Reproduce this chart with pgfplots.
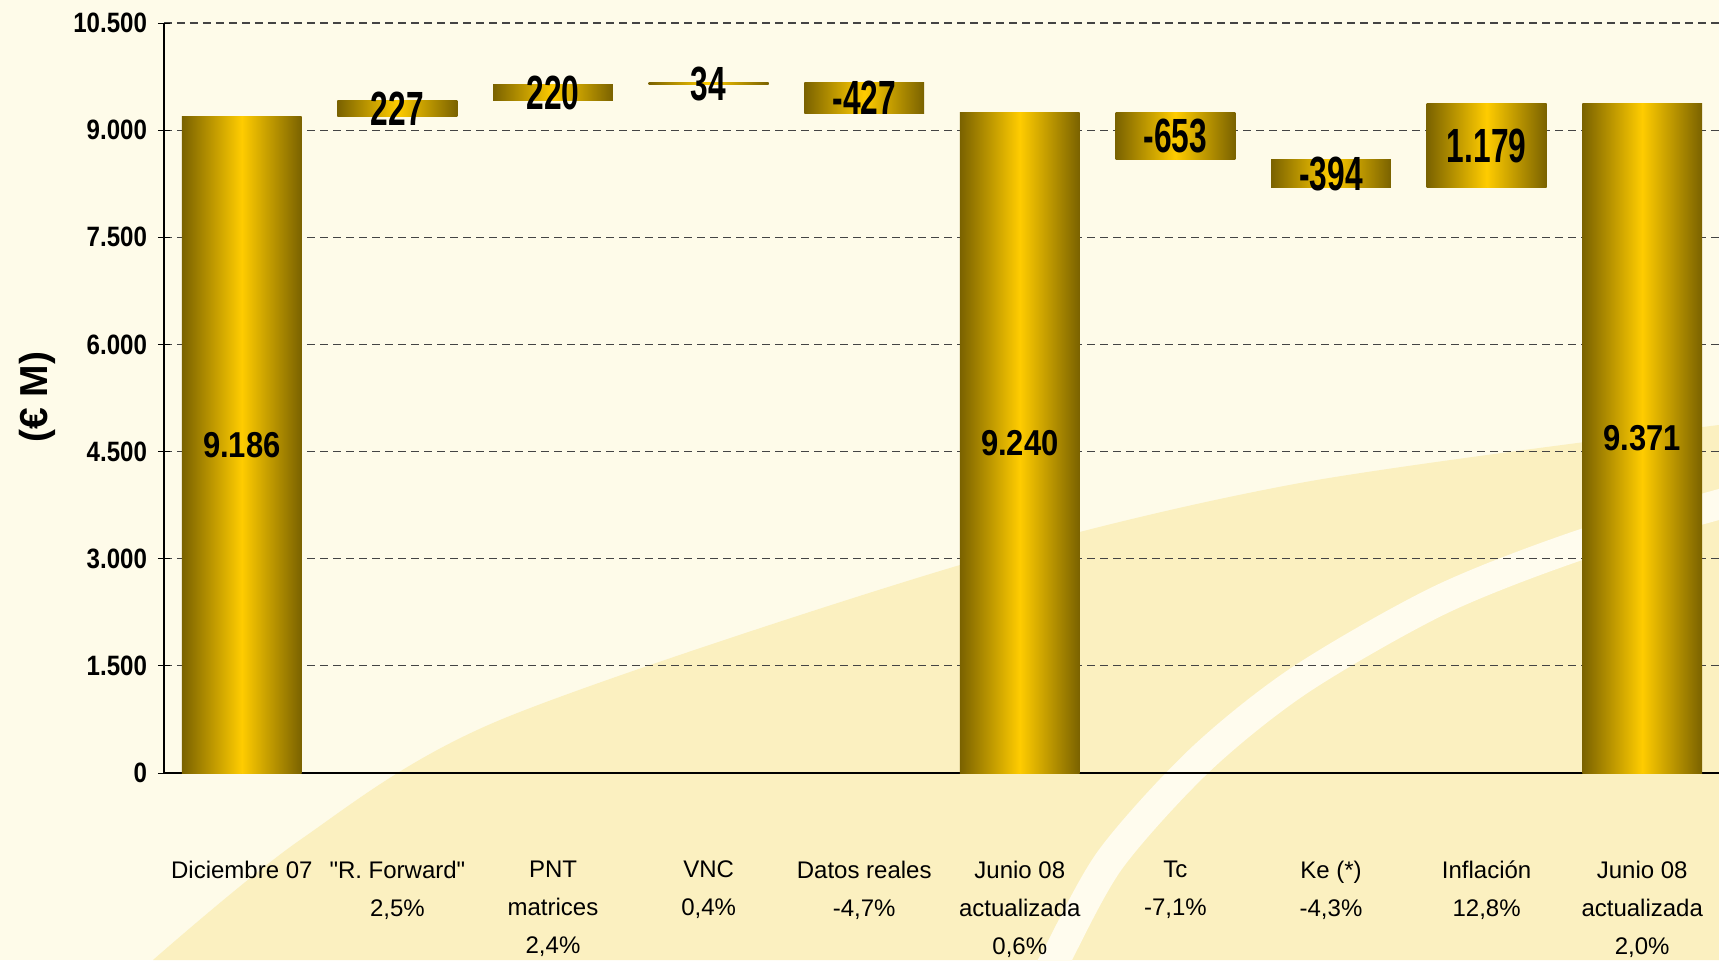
\documentclass[border=0pt]{standalone}
\usepackage{pgfplots}
\pgfplotsset{compat=1.18}
\usepackage{pgfplotstable}
\usepackage{fontspec}
\setmainfont{Liberation Sans}[Ligatures=TeXOff]
\newfontfamily\tickfont[FakeStretch=0.86]{Liberation Sans}
\newfontfamily\deltafont[FakeStretch=0.66]{Liberation Sans}
\definecolor{bgcream}{HTML}{FEFBE9}
\definecolor{bgyellow}{HTML}{FBF0C0}
\definecolor{bgstripe}{HTML}{FFFCEE}
\definecolor{bardark}{HTML}{7A6200}
\definecolor{bargold}{HTML}{FFCC00}
\definecolor{gridgray}{HTML}{444444}

\pgfplotstableread{
x base delta
0 0 9186
1 9186 227
2 9413 220
3 9633 34
4 9240 427
5 0 9240
6 8587 653
7 8193 394
8 8193 1179
9 0 9371
}\bars

\pgfplotstableread{
x y label
0 4593 9.186
5 4620 9.240
9 4685.5 9.371
}\biglabels

\pgfplotstableread{
x y label
1 9299.5 227
2 9523 220
3 9650 34
4 9453.5 -427
6 8913.5 -653
7 8390 -394
8 8782.5 1.179
}\deltalabels

\begin{document}
\begin{tikzpicture}
\useasboundingbox (-82pt,-93.5pt) rectangle (777.5pt,386.5pt);
\fill[bgcream] (-82pt,-93.5pt) rectangle (777.5pt,386.5pt);
\fill[bgyellow] plot[smooth] coordinates {(-5.5pt,-93.5pt) (68pt,-33.5pt) (168pt,26.5pt) (398pt,104pt) (568pt,145pt) (777.5pt,174pt)} -- (777.5pt,-93.5pt) -- cycle;
\draw[bgstripe, line width=15pt] plot[smooth] coordinates {(440pt,-102pt) (445.5pt,-93.5pt) (473pt,-43.5pt) (518pt,6.5pt) (568pt,46.5pt) (638pt,86.5pt) (708pt,114pt) (782pt,135.5pt)};

\begin{axis}[
  at={(0,0)}, anchor=south west, scale only axis,
  width=778pt, height=375pt,
  xmin=-0.5, xmax=9.5, ymin=0, ymax=10500,
  clip=false,
  axis x line=bottom, axis y line=left,
  axis line style={-, black, line width=0.7pt},
  ytick={0,1500,...,10500},
  scaled y ticks=false,
  /pgf/number format/1000 sep={.},
  /pgf/number format/assume math mode=true,
  yticklabel style={font=\tickfont\bfseries\fontsize{14}{14}\selectfont, xshift=-2pt},
  xtick={0,...,9},
  xticklabels={{Diciembre 07},{"R. Forward"\\2,5\%},{PNT\\matrices\\2,4\%},{VNC\\0,4\%},{Datos reales\\-4,7\%},{Junio 08\\actualizada\\0,6\%},{Tc\\-7,1\%},{Ke (*)\\-4,3\%},{Inflación\\12,8\%},{Junio 08\\actualizada\\2,0\%}},
  xticklabel style={font=\fontsize{12}{19}\selectfont, align=center, anchor=north, yshift=-37.3pt},
  major x tick style={draw=none},
  major y tick style={black, line width=0.5pt},
  tick align=center, major tick length=6pt,
  ymajorgrids,
  grid style={dash pattern=on 4pt off 2.5pt, color=gridgray, line width=0.6pt},
]
% floating waterfall bars: each bar starts at "base" and is "delta" high
\addplot[scatter, only marks, mark=square*, mark size=0pt,
  mark options={draw=none, fill=none},
  visualization depends on={\thisrow{delta} \as \dlt},
  scatter/@pre marker code/.code={%
    \path[draw=none, left color=bardark, right color=bardark, middle color=bargold]
      (-29.953pt,0pt) rectangle (29.953pt,\dlt*0.0357142857pt);},
  scatter/@post marker code/.code={}]
  table[x=x, y=base]{\bars};

\addplot[only marks, mark=*, mark options={draw=none, fill=none}, mark size=0pt,
  nodes near coords, point meta=explicit symbolic, nodes near coords align=center,
  every node near coord/.append style={anchor=center, text=black, inner sep=0pt,
    font=\tickfont\bfseries\fontsize{18}{18}\selectfont}]
  table[x=x, y=y, meta=label]{\biglabels};
\addplot[only marks, mark=*, mark options={draw=none, fill=none}, mark size=0pt,
  nodes near coords, point meta=explicit symbolic, nodes near coords align=center,
  every node near coord/.append style={anchor=center, text=black, inner sep=0pt,
    font=\deltafont\bfseries\fontsize{24}{24}\selectfont}]
  table[x=x, y=y, meta=label]{\deltalabels};
\end{axis}

\node[rotate=90, font=\bfseries\fontsize{19.5}{20}\selectfont] at (-63.5pt,188pt) {(€ M)};
\end{tikzpicture}
\end{document}
